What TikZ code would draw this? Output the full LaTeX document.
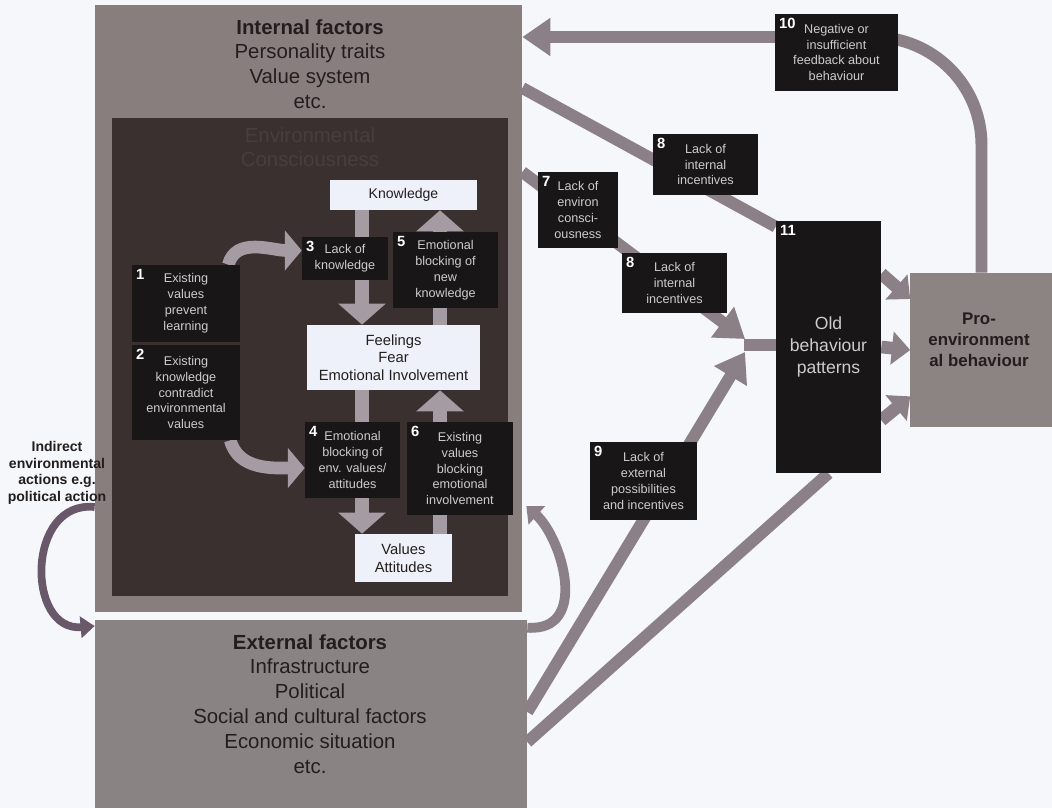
\documentclass[tikz,border=0pt]{standalone}
\usepackage{fontspec}
\setmainfont{Liberation Sans}
\usetikzlibrary{arrows.meta,calc}
\pgfdeclarelayer{regions}
\pgfdeclarelayer{links}
\pgfsetlayers{regions,links,main}
\definecolor{paper}{RGB}{245,247,251}
\definecolor{intlgray}{RGB}{137,126,126}
\definecolor{darkcore}{RGB}{58,48,48}
\definecolor{corefaint}{RGB}{72,62,62}
\definecolor{extgray}{RGB}{138,131,131}
\definecolor{progray}{RGB}{140,131,131}
\definecolor{linkgray}{RGB}{140,128,135}
\definecolor{coregray}{RGB}{165,155,162}
\definecolor{loopdark}{RGB}{105,88,105}
\definecolor{boxblack}{RGB}{24,22,22}
\definecolor{boxtext}{RGB}{205,205,205}
\definecolor{boxwhite}{RGB}{238,241,249}
\definecolor{ink}{RGB}{35,30,30}
\tikzset{
  region/.style={fill=intlgray, draw=none, inner sep=0pt},
  heading/.style={anchor=north, align=center, text=ink, inner sep=0pt, font=\fontsize{14.5}{17.7}\selectfont},
  blackbox/.style={fill=boxblack, text=boxtext, align=center, inner sep=0pt, font=\fontsize{9}{11.3}\selectfont},
  whitebox/.style={fill=boxwhite, text=ink, align=center, inner sep=0pt, font=\fontsize{10}{12.4}\selectfont},
  num/.style={anchor=north west, text=white, inner sep=3pt, font=\bfseries\fontsize{10.5}{10.5}\selectfont},
  fatline/.style={draw=linkgray, line width=8.5pt},
  fatarrow/.style={fatline, -{Triangle[width=26pt,length=20pt]}},
  shortarrow/.style={fatline, line width=9pt, -{Triangle[width=23pt,length=13pt]}},
  corearrow/.style={draw=coregray, line width=10pt, -{Triangle[width=33pt,length=15pt]}},
  bendarrow/.style={draw=coregray, line width=9pt, -{Triangle[width=28pt,length=12pt]}},
  loopright/.style={draw=linkgray, line width=7pt, -{Triangle[width=17pt,length=10pt]}},
  loopleft/.style={draw=loopdark, line width=5.5pt, -{Triangle[width=15pt,length=10pt]}},
}
\begin{document}
\begin{tikzpicture}[x=0.025cm,y=-0.025cm]
\useasboundingbox (0,0) rectangle (1052,808);
% regions
\begin{pgfonlayer}{regions}
\fill[paper] (0,0) rectangle (1052,808);
\node[region, minimum width=10.675cm, minimum height=15.175cm] (intl) at (308.5,308.5) {};
\node[region, fill=darkcore, minimum width=9.9cm, minimum height=11.95cm] (core) at (310,357) {};
\node[region, fill=extgray, minimum width=10.8cm, minimum height=4.7cm] (extl) at (311,714) {};
\end{pgfonlayer}
\node[heading] (intltxt) at (310,19) {\textbf{Internal factors}\\Personality traits\\Value system\\etc.};
\node[heading, text=corefaint] (coretxt) at (310,127) {Environmental\\Consciousness};
\node[heading] (extltxt) at (310,634) {\textbf{External factors}\\Infrastructure\\Political\\Social and cultural factors\\Economic situation\\etc.};
\node[heading, font=\bfseries\fontsize{10}{11.8}\selectfont] (indirect) at (57,441) {Indirect\\environmental\\actions e.g.\\political action};
% white boxes
\node[whitebox, minimum width=3.675cm, minimum height=0.75cm] (know) at (403.5,195) {Knowledge};
\node[whitebox, font=\fontsize{10.5}{12.4}\selectfont, minimum width=4.325cm, minimum height=1.625cm] (feel) at (393.5,357.5) {Feelings\\Fear\\Emotional Involvement};
\node[whitebox, font=\fontsize{10.5}{12.8}\selectfont, minimum width=2.425cm, minimum height=1.2cm] (vals) at (403.5,558) {Values\\Attitudes};
% black boxes inside
\node[blackbox, minimum width=2.7cm, minimum height=1.925cm, label={[num]north west:1}] (b1) at (186,303.5) {Existing\\values\\prevent\\learning};
\node[blackbox, minimum width=2.7cm, minimum height=2.375cm, label={[num]north west:2}] (b2) at (186,392.5) {Existing\\knowledge\\contradict\\environmental\\values};
\node[blackbox, minimum width=2.15cm, minimum height=1.075cm, label={[num]north west:3}] (b3) at (345,258.5) {Lack of\\knowledge};
\node[blackbox, minimum width=2.625cm, minimum height=1.9cm, label={[num]north west:5}] (b5) at (445.5,270) {Emotional\\blocking of\\new\\knowledge};
\node[blackbox, minimum width=2.375cm, minimum height=1.9cm, label={[num]north west:4}] (b4) at (352.5,460) {Emotional\\blocking of\\env. values/\\attitudes};
\node[blackbox, minimum width=2.65cm, minimum height=2.325cm, label={[num]north west:6}] (b6) at (460,468.5) {Existing\\values\\blocking\\emotional\\involvement};
% black boxes outside
\node[blackbox, minimum width=3.075cm, minimum height=1.925cm, label={[num]north west:10}] (b10) at (836.5,52.5) {Negative or\\insufficient\\feedback about\\behaviour};
\node[blackbox, minimum width=2.625cm, minimum height=1.525cm, label={[num]north west:8}] (b8a) at (705.5,164.5) {Lack of\\internal\\incentives};
\node[blackbox, minimum width=2cm, minimum height=1.9cm, label={[num]north west:7}] (b7) at (578,210) {Lack of\\environ\\consci-\\ousness};
\node[blackbox, minimum width=2.625cm, minimum height=1.5cm, label={[num]north west:8}] (b8b) at (674.5,283) {Lack of\\internal\\incentives};
\node[blackbox, minimum width=2.675cm, minimum height=1.95cm, label={[num]north west:9}] (b9) at (643.5,481) {Lack of\\external\\possibilities\\and incentives};
\node[blackbox, font=\fontsize{12.5}{15.6}\selectfont, minimum width=2.625cm, minimum height=6.3cm, label={[num]north west:11}] (b11) at (828.5,347) {Old\\behaviour\\patterns};
\node[region, fill=progray, text=ink, align=center, font=\bfseries\fontsize{12}{14.8}\selectfont, minimum width=3.55cm, minimum height=3.85cm] (pro) at (981.5,350) {};
\node[heading, font=\bfseries\fontsize{12}{14.8}\selectfont, anchor=center] (protxt) at (979,340) {Pro-\\environment\\al behaviour};
% connectors
\begin{pgfonlayer}{links}
\coordinate (colL) at (362,0);
\coordinate (colR) at (440,0);
\draw[corearrow] (know.south -| colL) -- (feel.north -| colL);
\draw[corearrow] (feel.north -| colR) -- (know.south -| colR);
\draw[corearrow] (feel.south -| colL) -- (vals.north -| colL);
\draw[corearrow] (vals.north -| colR) -- (feel.south -| colR);
\draw[bendarrow] ($(b1.north east)+(-12,0)$) to[out=75,in=180] ($(b3.west)+(0,-8)$);
\draw[bendarrow] ($(b2.south east)+(-10,0)$) to[out=-75,in=180] ($(b4.west)+(0,8)$);
\coordinate (fbrow) at (0,37);
\coordinate (toprow) at (0,88);
\coordinate (midrow) at (0,172);
\coordinate (backrow) at (0,506);
\coordinate (leftrow) at (0,507);
\coordinate (extrowA) at (0,712);
\coordinate (extrowB) at (0,742);
\coordinate (extrowC) at (0,626);
\coordinate (junc) at (744,345);
\coordinate (jtop) at (745,339);
\coordinate (jbot) at (745,352);
\draw[fatarrow, rounded corners=2.7cm] (pro.north) |- (intl.east |- fbrow);
\draw[fatline] (intl.east |- toprow) -- ($(b11.north west)+(0,6)$);
\draw[fatarrow] (intl.east |- midrow) -- (jtop);
\draw[fatarrow] (extl.east |- extrowA) -- (jbot);
\draw[fatline] (junc) -- (junc -| b11.west);
\draw[fatline] (extl.east |- extrowB) -- (b11.south);
\foreach \a/\b in {0.21/0.17,0.5/0.5,0.79/0.8}{\draw[shortarrow] ($(b11.north east)!\a!(b11.south east)$) -- ($(pro.north west)!\b!(pro.south west)$);}
\draw[loopright] ($(extl.north east)+(0,8)$) .. controls (590,632) and (562,538) .. ($(intl.east |- backrow)+(4,0)$);
\draw[loopleft] (intl.west |- leftrow) .. controls (26,500) and (26,632) .. (extl.west |- extrowC);
\end{pgfonlayer}
\end{tikzpicture}
\end{document}
